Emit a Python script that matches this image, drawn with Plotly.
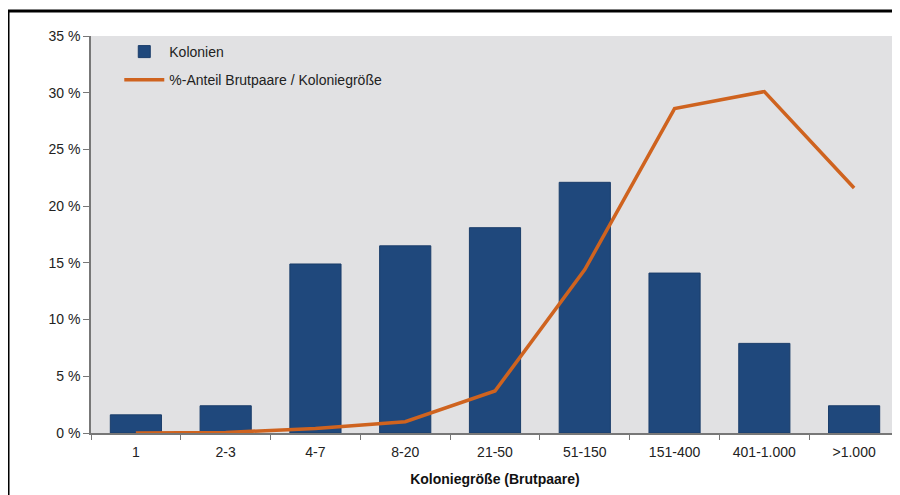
import plotly.graph_objects as go

categories = ["1", "2-3", "4-7", "8-20", "21-50", "51-150", "151-400", "401-1.000", ">1.000"]
kolonien = [1.6, 2.4, 14.9, 16.5, 18.1, 22.1, 14.1, 7.9, 2.4]
anteil = [0.0, 0.05, 0.4, 1.0, 3.7, 14.4, 28.6, 30.1, 21.6]
y_ticks = [0, 5, 10, 15, 20, 25, 30, 35]
y_labels = [f"{v} %" for v in y_ticks]

font_family = "Liberation Sans, Arial, sans-serif"

fig = go.Figure()
fig.add_trace(go.Bar(
    x=categories, y=kolonien, name="Kolonien", legendgroup="a",
    marker=dict(color="#1f487c", line=dict(color="#1a3d6a", width=1)),
    width=0.57,
))
fig.add_trace(go.Scatter(
    x=categories, y=anteil, name="%-Anteil Brutpaare / Koloniegröße", legendgroup="b",
    mode="lines", line=dict(color="#cf631f", width=3.5),
))

fig.update_layout(
    width=892, height=487,
    margin=dict(l=83, r=1, t=28, b=62),
    paper_bgcolor="white",
    plot_bgcolor="#e1e1e3",
    font=dict(family=font_family, size=14, color="#222222"),
    showlegend=True,
    legend=dict(x=0.035, y=1.0, xanchor="left", yanchor="top",
                bgcolor="rgba(0,0,0,0)", font=dict(size=14, color="#222222"),
                tracegroupgap=7, itemwidth=40),
    bargap=0.43,
)
fig.update_xaxes(
    type="category",
    showline=True, linecolor="#777777", linewidth=1.5,
    ticks="outside", tickson="boundaries", ticklen=5, tickcolor="#777777",
    ticklabelstandoff=5,
    showgrid=False,
    title=dict(text="<b>Koloniegröße (Brutpaare)</b>", font=dict(size=14, color="#111111"), standoff=16),
    tickfont=dict(size=14, color="#222222"),
)
fig.update_yaxes(
    range=[0, 35], tickvals=y_ticks, ticktext=y_labels,
    showline=True, linecolor="#777777", linewidth=1.5,
    ticks="outside", ticklen=6, tickcolor="#777777",
    showgrid=False, zeroline=False,
    tickfont=dict(size=14, color="#222222"),
)
fig.add_shape(type="rect", xref="paper", yref="paper",
              x0=-0.1027, y0=-0.3, x1=1.05, y1=1.063,
              line=dict(color="black", width=3), fillcolor="rgba(0,0,0,0)", layer="above")

fig.write_html("out.html")
